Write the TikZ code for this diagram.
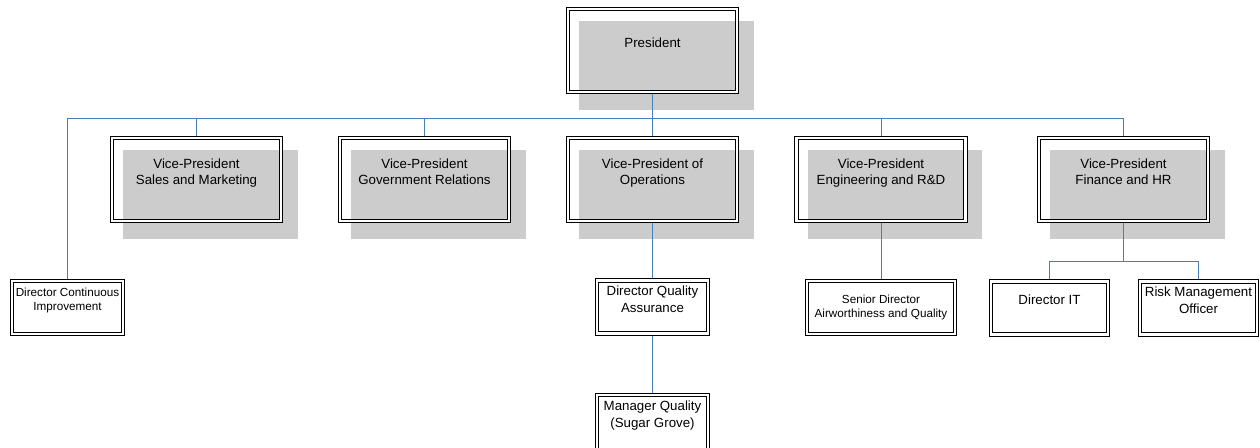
\documentclass[tikz,border=0pt]{standalone}
\usepackage{fontspec}
\setmainfont{Liberation Sans}
\usetikzlibrary{backgrounds}
\definecolor{linkblue}{RGB}{74,126,187}
\definecolor{shadowgray}{RGB}{204,204,204}
\newcommand{\bigfont}{\fontsize{13.3}{16.5}\selectfont}
\newcommand{\smallfont}{\fontsize{11.7}{14}\selectfont}

\begin{document}
\begin{tikzpicture}
[
    x=1pt, y=-1pt,
    box/.style={draw, double, line width=0.9pt, double distance=2.4pt, align=center, inner xsep=2pt, text depth=16pt, font=\bigfont},
    vpbox/.style={box, minimum width=169pt, minimum height=83pt},
    dirbox/.style={box, minimum width=111pt, minimum height=53pt},
    link/.style={draw=linkblue, line width=0.9pt},
]
\useasboundingbox (0,0) rectangle (1260,447);
% top level
\node [vpbox] (pres) at (652.5,50.5) {President};
% vice-presidents
\node [vpbox] (vsm) at (196.5,179.5) {Vice-President\\Sales and Marketing};
\node [vpbox] (vgr) at (424.5,179.5) {Vice-President\\Government Relations};
\node [vpbox] (vop) at (652.5,179.5) {Vice-President of\\Operations};
\node [vpbox] (ver) at (881,179.5) {Vice-President\\Engineering and R\&D};
\node [vpbox] (vfh) at (1123.5,179.5) {Vice-President\\Finance and HR};
% directors
\node [dirbox, font=\smallfont] (dci) at (67.5,307.5) {Director Continuous\\Improvement};
\node [dirbox] (dqa) at (652.5,307) {Director Quality\\Assurance};
\node [dirbox, minimum width=148pt, font=\smallfont, text depth=3pt] (sda) at (881,307.5) {Senior Director\\Airworthiness and Quality};
\node [dirbox, minimum width=117pt] (dit) at (1049.5,308) {Director IT};
\node [dirbox, minimum width=117pt] (rmo) at (1198.5,308) {Risk Management\\Officer};
\node [dirbox, minimum height=59pt, text depth=21pt] (mqs) at (652.5,424.5) {Manager Quality\\(Sugar Grove)};
\coordinate (bus) at (0,118);
\coordinate (fbus) at (0,261);
\begin{scope}[on background layer]
% shadows
\foreach \n in {pres,vsm,vgr,vop,ver,vfh}
    \fill [shadowgray] ([shift={(11.5,12.5)}]\n.north west) rectangle ([shift={(16.5,17.5)}]\n.south east);
% connectors
\foreach \n in {dci,vsm,vgr,vop,ver,vfh}
    \draw [link] (pres.south) -- (pres.south |- bus) -| (\n.north);
\draw [link] (vop.south) -- (dqa.north);
\draw [link] (dqa.south) -- (mqs.north);
\draw [link] (ver.south) -- (sda.north);
\foreach \n in {dit,rmo}
    \draw [link] (vfh.south) -- (vfh.south |- fbus) -| (\n.north);
\end{scope}
\end{tikzpicture}
\end{document}
